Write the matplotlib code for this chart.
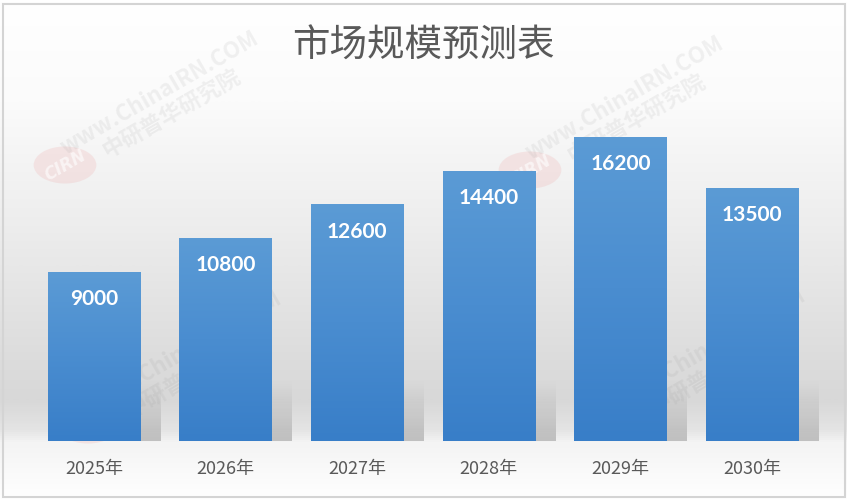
import numpy as np
import matplotlib.pyplot as plt
from matplotlib.colors import LinearSegmentedColormap
from matplotlib.patches import Rectangle, Circle

# data
years = ['2025年', '2026年', '2027年', '2028年', '2029年', '2030年']
values = [9000, 10800, 12600, 14400, 16200, 13500]
title = '市场规模预测表'

W, H = 847, 501
fig = plt.figure(figsize=(W / 100, H / 100), dpi=100)

# background gradient of the chart area (white -> grey band -> white)
bg = fig.add_axes([0, 0, 1, 1], zorder=0)
bg.set_axis_off()
stops = [(0.0, '#ffffff'), (0.20, '#fbfbfb'), (0.45, '#ededed'), (0.72, '#dcdcdc'),
         (0.80, '#d8d8d8'), (0.86, '#e4e4e4'), (0.885, '#f4f4f4'), (1.0, '#ffffff')]
bg_cmap = LinearSegmentedColormap.from_list('bg', stops)
grad = np.linspace(0, 1, 500).reshape(-1, 1)
bg.imshow(grad, cmap=bg_cmap, aspect='auto', extent=[0, 1, 0, 1], origin='upper')
bg.set_xlim(0, 1)
bg.set_ylim(0, 1)

# faint watermarks
for (cx, cy) in [(65, 165), (530, 170), (88, 425), (612, 422)]:
    bg.add_patch(Circle((cx / W, 1 - cy / H), 0.037, transform=bg.transAxes,
                        color='#f0b0b0', alpha=0.25, lw=0))
    bg.text(cx / W, 1 - cy / H, 'CIRN', transform=bg.transAxes, rotation=30,
            ha='center', va='center', fontsize=12, fontweight='bold', style='italic',
            color='white', alpha=0.6)
    bg.text((cx + 100) / W, 1 - (cy - 62) / H, 'www.ChinaIRN.COM\n中研普华研究院',
            transform=bg.transAxes, rotation=30, ha='center', va='center',
            fontsize=16, fontweight='bold', linespacing=1.0,
            family=['Noto Sans CJK SC', 'DejaVu Sans'], color='#999999', alpha=0.13)

# main axes
left, right, bottom_px, top_px = 28, 818, 441, 103
ax = fig.add_axes([left / W, 1 - bottom_px / H, (right - left) / W, (bottom_px - top_px) / H],
                  zorder=1)
ax.patch.set_alpha(0)
x = np.arange(len(years))

# soft shadows behind the bars
sh = np.zeros((100, 1, 4))
sh[..., :3] = 0.55
sh[:, 0, 3] = np.linspace(0.0, 0.55, 100) ** 1.2
for xi in x:
    r = Rectangle((xi - 0.35 + 0.15, 0), 0.7, 3200, lw=0, fc='none')
    ax.add_patch(r)
    im = ax.imshow(sh, aspect='auto', extent=[xi - 0.2, xi + 0.5, 0, 3200],
                   origin='upper', zorder=2)
    im.set_clip_path(r)

bars = ax.bar(x, values, width=0.7, color='#4a8ed2', zorder=3)
bar_cmap = LinearSegmentedColormap.from_list('bar', ['#5b9bd5', '#4a8dd0', '#387ec8'])
for b in bars:
    x0, w, h = b.get_x(), b.get_width(), b.get_height()
    im = ax.imshow(np.linspace(0, 1, 200).reshape(-1, 1), cmap=bar_cmap, aspect='auto',
                   extent=[x0, x0 + w, 0, h], origin='upper', zorder=4)
    im.set_clip_path(b)
    ax.text(b.get_x() + w / 2, h - 1450, str(int(h)), ha='center', va='center',
            color='white', fontsize=15, fontweight='bold', family='Lato', zorder=5)

ax.set_xlim(-0.5, len(years) - 0.5)
ax.set_ylim(0, 18000)
ax.set_xticks(x)
ax.set_xticklabels(years, family=['Noto Sans CJK SC', 'DejaVu Sans'], fontsize=13,
                   color='#595959')
ax.tick_params(axis='x', length=0, pad=14)
ax.set_yticks([])
for s in ax.spines.values():
    s.set_visible(False)

fig.text(0.5, 1 - 46 / H, title, ha='center', va='center', fontsize=27,
         color='#595959', family=['Noto Sans CJK SC', 'DejaVu Sans'])

# chart border
fig.add_artist(Rectangle((3 / W, 4 / H), 842 / W, 493 / H, transform=fig.transFigure,
                         fill=False, ec='#d4d4d4', lw=1.5))

fig.savefig('out.png', dpi=100)
